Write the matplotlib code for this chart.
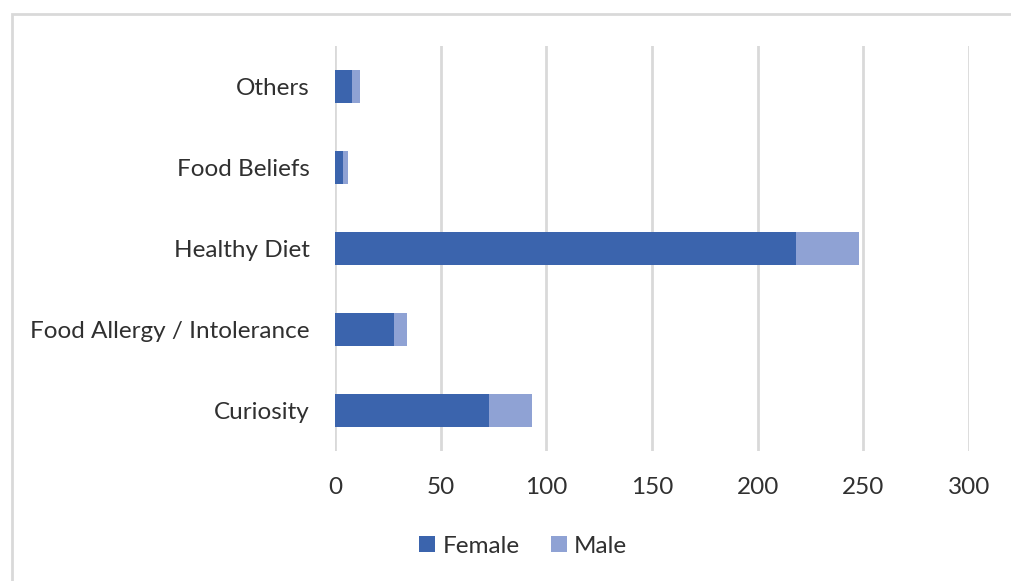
import numpy as np
import matplotlib.pyplot as plt
from matplotlib.patches import Rectangle

# data
categories = ["Curiosity", "Food Allergy / Intolerance", "Healthy Diet", "Food Beliefs", "Others"]
female = [73, 28, 218, 4, 8]
male = [20, 6, 30, 2, 4]
ticks = [0, 50, 100, 150, 200, 250, 300]

plt.rcParams['font.family'] = ['Lato', 'DejaVu Sans']

fig = plt.figure(figsize=(10.12, 5.81), dpi=100)
ax = fig.add_axes([0.331, 0.224, 0.6265, 0.697])

y = np.arange(len(categories))
ax.barh(y, female, height=0.4, color="#3B64AD", label="Female", zorder=3)
ax.barh(y, male, left=female, height=0.4, color="#8FA2D4", label="Male", zorder=3)

ax.set_xlim(0, 300)
ax.set_ylim(-0.5, 4.5)
ax.set_xticks(ticks)
ax.set_yticks(y)
ax.set_yticklabels(categories)
ax.tick_params(length=0, labelsize=17.5, colors="#303030")
ax.tick_params(axis="y", pad=18)
ax.tick_params(axis="x", pad=19)
ax.grid(axis="x", color="#D9D9D9", linewidth=2, zorder=0)
for s in ax.spines.values():
    s.set_visible(False)

leg = ax.legend(loc="center", bbox_to_anchor=(0.517, 0.06), bbox_transform=fig.transFigure,
                ncol=2, frameon=False, fontsize=17.5, handlelength=0.65, handleheight=0.65,
                handletextpad=0.3, columnspacing=1.3, labelcolor="#303030")

# outer chart frame
fig.patches.append(Rectangle((12 / 1012, -0.1), 1.2, 1 - 14 / 581 + 0.1, transform=fig.transFigure,
                             fill=False, edgecolor="#D9D9D9", linewidth=2))

fig.savefig("out.png", dpi=100)
